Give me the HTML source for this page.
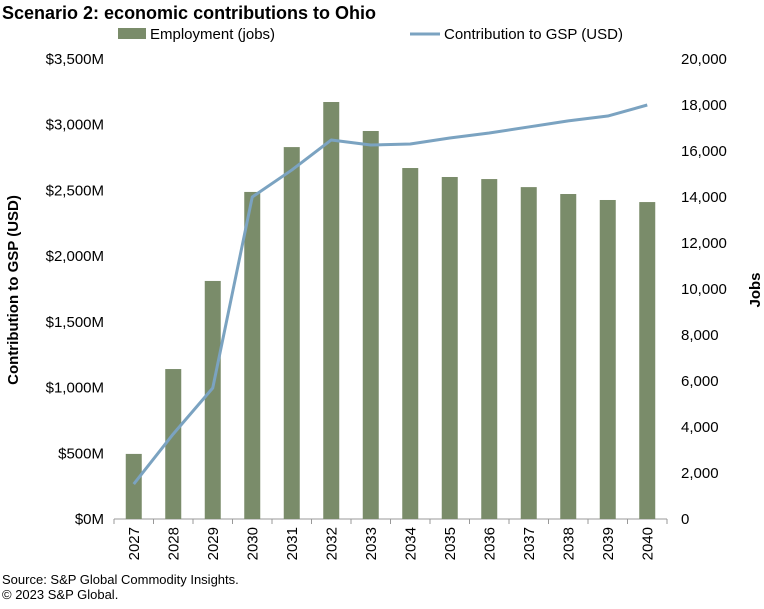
<!DOCTYPE html>
<html><head><meta charset="utf-8"><style>
body{margin:0;background:#fff;font-family:"Liberation Sans",Arial,sans-serif;}
svg text{font-family:"Liberation Sans",Arial,sans-serif;}
</style></head><body>
<svg id="chart" width="764" height="604" xmlns="http://www.w3.org/2000/svg">
<text x="2" y="19" font-size="18" font-weight="bold" fill="#000">Scenario 2: economic contributions to Ohio</text>
<g>
<rect x="118" y="28" width="28" height="11" fill="#7a8c6a"/>
<text x="150" y="39" font-size="15">Employment (jobs)</text>
<line x1="410" y1="34" x2="440" y2="34" stroke="#7ba3c1" stroke-width="3"/>
<text x="444" y="39" font-size="15">Contribution to GSP (USD)</text>
</g>
<g id="axes"></g>
<g id="bars"></g>
<g id="line"></g>
<text transform="translate(18,290) rotate(-90)" text-anchor="middle" font-size="15" font-weight="bold">Contribution to GSP (USD)</text>
<text transform="translate(760,290) rotate(-90)" text-anchor="middle" font-size="15" font-weight="bold">Jobs</text>
<text x="2" y="584" font-size="13">Source: S&amp;P Global Commodity Insights.</text>
<text x="2" y="599" font-size="13">© 2023 S&amp;P Global.</text>
</svg>
<script>
const years=["2027","2028","2029","2030","2031","2032","2033","2034","2035","2036","2037","2038","2039","2040"];
const jobs=[2830,6520,10350,14220,16170,18130,16870,15260,14870,14780,14430,14130,13870,13780];
const gsp=[266,647,997,2450,2655,2884,2846,2853,2899,2937,2983,3029,3066,3150];
const leftTicks=[0,500,1000,1500,2000,2500,3000,3500];
const leftTickLabels=["$0M","$500M","$1,000M","$1,500M","$2,000M","$2,500M","$3,000M","$3,500M"];
const rightTicks=[0,2000,4000,6000,8000,10000,12000,14000,16000,18000,20000];
const rightTickLabels=["0","2,000","4,000","6,000","8,000","10,000","12,000","14,000","16,000","18,000","20,000"];
const ns="http://www.w3.org/2000/svg";
const x0=114,x1=667,yB=519,yT=59;
const step=(x1-x0)/years.length;
const xc=i=>x0+step*(i+0.5);
const yL=v=>yB-(v/3500)*(yB-yT);
const yR=v=>yB-(v/20000)*(yB-yT);
function mk(tag,attrs,parent){const e=document.createElementNS(ns,tag);for(const k in attrs)e.setAttribute(k,attrs[k]);parent.appendChild(e);return e;}
const axes=document.getElementById('axes');
leftTicks.forEach((t,i)=>{
 const e=mk('text',{x:104,y:yL(t)+5,'text-anchor':'end','font-size':15},axes);
 e.textContent=leftTickLabels[i];
 
 
});
rightTicks.forEach((t,i)=>{
 const e=mk('text',{x:681,y:yR(t)+5,'font-size':15},axes);
 e.textContent=rightTickLabels[i];
 
 
});
const ax=mk('line',{x1:x0,y1:yB,x2:x1,y2:yB,stroke:'#999','stroke-width':1},axes);


years.forEach((y,i)=>{
 const tk=mk('line',{x1:x0+step*(i+1),y1:yB,x2:x0+step*(i+1),y2:yB+5,stroke:'#999'},axes);
 
 
 const e=mk('text',{transform:`translate(${xc(i)+5},${yB+8}) rotate(-90)`,'text-anchor':'end','font-size':15},axes);
 e.textContent=y;
 
 
});
const tk0=mk('line',{x1:x0,y1:yB,x2:x0,y2:yB+5,stroke:'#999'},axes);


const bars=document.getElementById('bars');
jobs.forEach((v,i)=>{
 const r=mk('rect',{x:xc(i)-8,y:yR(v),width:16,height:yB-yR(v),fill:'#7a8c6a'},bars);
 
 
});
const pts=gsp.map((v,i)=>xc(i)+','+yL(v)).join(' ');
const pl=mk('polyline',{points:pts,fill:'none',stroke:'#7ba3c1','stroke-width':3,'stroke-linejoin':'round'},document.getElementById('line'));


</script>
</body></html>
